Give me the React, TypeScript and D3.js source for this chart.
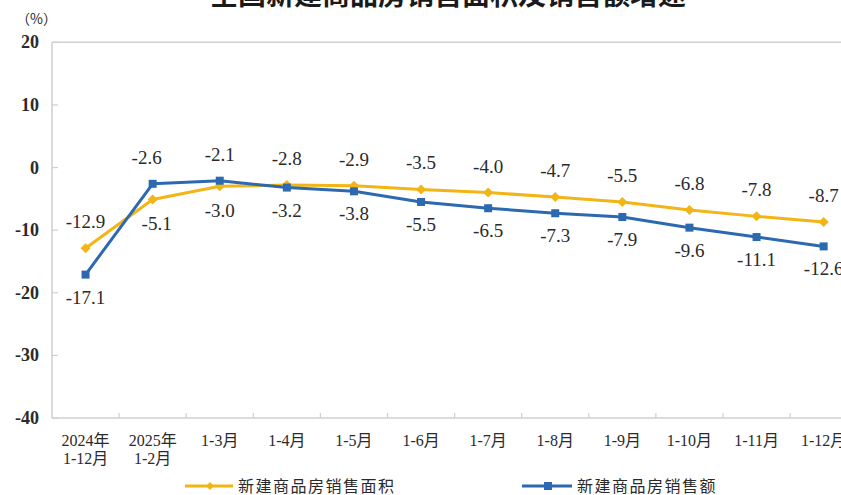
import React from "react";
import * as d3 from "d3";

const categories = [
  ["2024年", "1-12月"],
  ["2025年", "1-2月"],
  ["1-3月"],
  ["1-4月"],
  ["1-5月"],
  ["1-6月"],
  ["1-7月"],
  ["1-8月"],
  ["1-9月"],
  ["1-10月"],
  ["1-11月"],
  ["1-12月"],
];
const areaGrowth = [-12.9, -5.1, -3.0, -2.8, -2.9, -3.5, -4.0, -4.7, -5.5, -6.8, -7.8, -8.7];
const salesGrowth = [-17.1, -2.6, -2.1, -3.2, -3.8, -5.5, -6.5, -7.3, -7.9, -9.6, -11.1, -12.6];
const yTicks = [20, 10, 0, -10, -20, -30, -40];
const areaName = "新建商品房销售面积";
const salesName = "新建商品房销售额";
const titleText = "全国新建商品房销售面积及销售额增速";

const YELLOW = "#F2B515";
const BLUE = "#2C69B0";
const GRID = "#cfcfcf";
const TEXT = "#2a2a2a";
const SERIF = "'Liberation Serif', 'DejaVu Serif', serif";
const CJK = "'Liberation Serif', 'Noto Sans CJK SC', serif";

const W = 841;
const H = 495;
const left = 52;
const step = 67.1;
const top = 42.3;
const bottom = 418;

export default function App() {
  const x = d3
    .scaleBand<number>()
    .domain(d3.range(categories.length))
    .range([left, left + step * categories.length])
    .padding(0);
  const y = d3.scaleLinear().domain([-40, 20]).range([bottom, top]);
  const cx = (i: number) => (x(i) ?? 0) + x.bandwidth() / 2;
  const line = d3
    .line<number>()
    .x((_, i) => cx(i))
    .y((d) => y(d));

  // label placement: area labels above except where the lines cross, sales labels below except peaks
  const areaAbove = areaGrowth.map((_, i) => !(i === 1 || i === 2));
  const salesAbove = salesGrowth.map((_, i) => i === 1 || i === 2);

  const diamond = (px: number, py: number, r: number) =>
    `M${px},${py - r}L${px + r},${py}L${px},${py + r}L${px - r},${py}Z`;

  return (
    <svg width={W} height={H} style={{ position: "absolute", left: 0, top: 0, background: "#fff" }}>
      <rect width={W} height={H} fill="#fff" />
      <text
        x={448}
        y={5}
        textAnchor="middle"
        fontFamily="'Noto Sans CJK SC', sans-serif"
        fontWeight={700}
        fontSize={28}
        fill="#1a1a1a"
      >
        {titleText}
      </text>
      <text x={16} y={24} fontFamily="'Noto Sans CJK SC', sans-serif" fontSize={14} fill={TEXT}>
        （%）
      </text>

      {/* plot frame */}
      <line x1={left} x2={W} y1={top} y2={top} stroke={GRID} strokeWidth={1.5} />
      <line x1={left} x2={W} y1={bottom} y2={bottom} stroke={GRID} strokeWidth={1.5} />
      <line x1={left} x2={left} y1={top} y2={bottom} stroke={GRID} strokeWidth={1.5} />

      {yTicks.map((t) => (
        <g key={t}>
          <line x1={left} x2={left + 6} y1={y(t)} y2={y(t)} stroke={GRID} strokeWidth={1.2} />
          <text
            x={39}
            y={y(t) + 6}
            textAnchor="end"
            fontFamily={SERIF}
            fontSize={18}
            fontWeight={700}
            fill={TEXT}
          >
            {t}
          </text>
        </g>
      ))}

      {categories.map((c, i) => (
        <g key={i}>
          {i > 0 && (
            <line x1={x(i)} x2={x(i)} y1={bottom} y2={bottom - 5} stroke={GRID} strokeWidth={1.2} />
          )}
          {c.map((s, j) => (
            <text
              key={j}
              x={cx(i)}
              y={446 + j * 18}
              textAnchor="middle"
              fontFamily={CJK}
              fontSize={16}
              fill={TEXT}
            >
              {s}
            </text>
          ))}
        </g>
      ))}

      <path d={line(areaGrowth) ?? ""} fill="none" stroke={YELLOW} strokeWidth={3} strokeLinejoin="round" />
      <path d={line(salesGrowth) ?? ""} fill="none" stroke={BLUE} strokeWidth={3} strokeLinejoin="round" />

      {areaGrowth.map((v, i) => (
        <path key={`a${i}`} d={diamond(cx(i), y(v), 5)} fill={YELLOW} />
      ))}
      {salesGrowth.map((v, i) => (
        <rect key={`s${i}`} x={cx(i) - 4} y={y(v) - 4} width={8} height={8} fill={BLUE} />
      ))}

      {areaGrowth.map((v, i) => (
        <text
          key={`al${i}`}
          x={cx(i) + (i === 1 ? 4 : 0)}
          y={y(v) + (areaAbove[i] ? -20 : 31)}
          textAnchor="middle"
          fontFamily={SERIF}
          fontSize={19}
          fill={TEXT}
        >
          {v.toFixed(1)}
        </text>
      ))}
      {salesGrowth.map((v, i) => (
        <text
          key={`sl${i}`}
          x={cx(i) + (i === 1 ? -6 : 0)}
          y={y(v) + (salesAbove[i] ? -20 : 29)}
          textAnchor="middle"
          fontFamily={SERIF}
          fontSize={19}
          fill={TEXT}
        >
          {v.toFixed(1)}
        </text>
      ))}

      {/* legend */}
      <line x1={185} x2={233} y1={486} y2={486} stroke={YELLOW} strokeWidth={3} />
      <path d={diamond(210, 486, 4)} fill={YELLOW} />
      <text x={238} y={492} fontFamily={CJK} fontSize={16} letterSpacing={1.5} fill={TEXT}>
        {areaName}
      </text>
      <line x1={522} x2={572} y1={486} y2={486} stroke={BLUE} strokeWidth={3} />
      <rect x={544} y={482} width={8} height={8} fill={BLUE} />
      <text x={577} y={492} fontFamily={CJK} fontSize={16} letterSpacing={1.5} fill={TEXT}>
        {salesName}
      </text>
    </svg>
  );
}
